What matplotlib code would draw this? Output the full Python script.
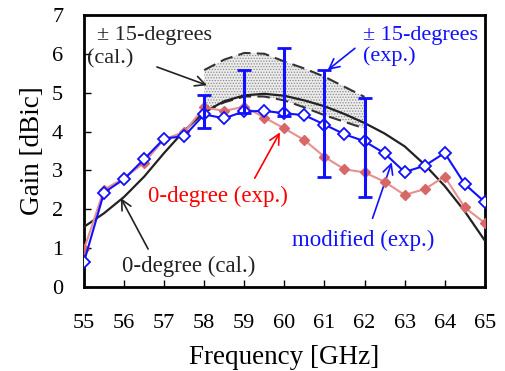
import numpy as np
import matplotlib.pyplot as plt

plt.rcParams['font.family'] = ['Liberation Serif', 'DejaVu Serif']
plt.rcParams['hatch.color'] = '#8a8a8a'
plt.rcParams['hatch.linewidth'] = 0.6

freq = np.arange(55, 65.01, 0.5)
modified_exp = [0.65, 2.43, 2.78, 3.29, 3.82, 3.88, 4.44, 4.34, 4.52, 4.53, 4.47,
                4.42, 4.18, 3.93, 3.75, 3.44, 2.96, 3.12, 3.45, 2.65, 2.19]
zero_exp = [0.97, 2.51, 2.80, 3.20, 3.80, 3.99, 4.62, 4.53, 4.64, 4.36, 4.08,
            3.78, 3.35, 3.03, 2.95, 2.71, 2.37, 2.52, 2.84, 2.05, 1.65]
zero_cal = [1.55, 1.90, 2.32, 2.84, 3.45, 4.02, 4.50, 4.78, 4.93, 4.97, 4.92,
            4.80, 4.65, 4.45, 4.22, 3.95, 3.62, 3.15, 2.60, 1.95, 1.20]

band_f = np.arange(58, 62.01, 0.5)
band_lo = [4.50, 4.75, 4.90, 4.90, 4.80, 4.62, 4.42, 4.25, 4.08]
band_hi = [5.58, 5.85, 6.02, 6.00, 5.80, 5.62, 5.41, 5.15, 4.89]

err_f = [58, 59, 60, 61, 62]
err_lo = [4.08, 4.47, 4.40, 2.84, 2.32]
err_hi = [4.94, 5.58, 6.15, 5.58, 4.87]

fig = plt.figure(figsize=(5.06, 3.71), dpi=100)
ax = fig.add_axes([0.166, 0.226, 0.792, 0.734])

ax.fill_between(band_f, band_lo, band_hi, facecolor='#ececec', edgecolor='none',
                hatch='......', zorder=1)
ax.plot(band_f, band_hi, color='#333333', lw=1.5, ls=(0, (6, 3)), zorder=2)
ax.plot(band_f, band_lo, color='#333333', lw=1.5, ls=(0, (6, 3)), zorder=2)

ax.plot(freq, zero_cal, color='#222222', lw=1.6, zorder=3)
ax.plot(freq, zero_exp, color='#e89090', lw=1.5, marker='D', ms=5.5,
        mfc='#d86868', mec='#d86868', zorder=4)
ax.plot(freq, modified_exp, color='#1010ff', lw=1.5, marker='D', ms=6.5,
        mfc='white', mec='#1010ff', mew=1.3, zorder=5)

mid = [(a + b) / 2 for a, b in zip(err_lo, err_hi)]
half = [(b - a) / 2 for a, b in zip(err_lo, err_hi)]
ax.errorbar(err_f, mid, yerr=half, fmt='none', ecolor='#1010ff', elinewidth=2.2,
            capsize=5, capthick=2, zorder=6)

ax.set_xlim(55, 65)
ax.set_ylim(0, 7)
ax.set_xticks(range(55, 66))
ax.set_yticks(range(0, 8))
ax.tick_params(axis='x', direction='in', labelsize=16, length=5, width=1, pad=19)
ax.tick_params(axis='y', direction='in', labelsize=16, length=5, width=1, pad=15)
for s in ax.spines.values():
    s.set_linewidth(2)
ax.set_xlabel('Frequency [GHz]', fontsize=19.5, labelpad=9)
ax.set_ylabel('Gain [dBic]', fontsize=19.5, labelpad=5)

def note(txt, x, y, color, size=16.5):
    ax.text(x, y, txt, fontsize=size, color=color, ha='left', va='center', zorder=7)

def arrow(tail, head, color):
    ax.annotate('', xy=head, xytext=tail,
                arrowprops=dict(arrowstyle='->', lw=1.2, mutation_scale=18,
                                color=color, shrinkA=0, shrinkB=0))

note('± 15-degrees', 55.33, 6.48, '#222222', 16)
note('(cal.)', 55.08, 5.88, '#222222', 16)
arrow((56.82, 5.66), (58.07, 5.19), '#222222')

note('± 15-degrees', 61.95, 6.48, '#1010ff', 16)
note('(exp.)', 61.95, 5.94, '#1010ff', 16)
arrow((61.76, 6.14), (61.08, 5.58), '#1010ff')

note('0-degree (exp.)', 56.6, 2.34, 'red')
arrow((59.26, 2.80), (59.89, 3.98), 'red')

note('0-degree (cal.)', 55.95, 0.54, '#222222')
arrow((56.6, 0.98), (55.92, 2.29), '#222222')

note('modified (exp.)', 60.2, 1.21, '#1010ff')
arrow((62.2, 1.77), (62.68, 3.21), '#1010ff')

fig.savefig('out.png', dpi=100)
